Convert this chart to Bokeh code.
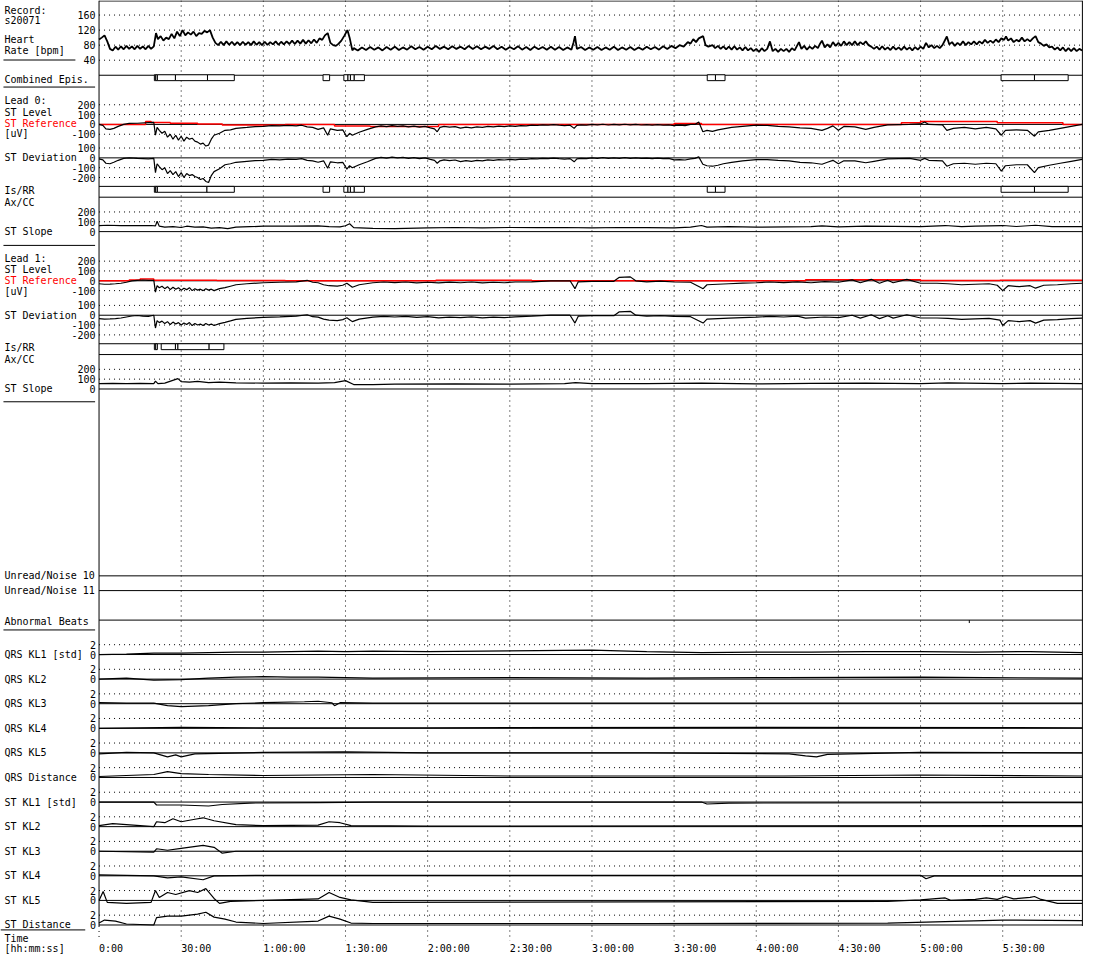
from bokeh.plotting import figure
from bokeh.models import Range1d
from bokeh.embed import file_html
from bokeh.resources import INLINE
from bokeh.core.properties import value

# ----------------------------- data (time in minutes) -----------------------------
record = "s20071"
time_ticks = [0, 30, 60, 90, 120, 150, 180, 210, 240, 270, 300, 330]
time_labels = ["0:00", "30:00", "1:00:00", "1:30:00", "2:00:00", "2:30:00", "3:00:00",
               "3:30:00", "4:00:00", "4:30:00", "5:00:00", "5:30:00"]
T_END = 359.1

hr_pts = [(0,95),(1,100),(2,106),(3,90),(4,70),(5,66),(6,76),(7,68),(8,77),(9,69),(10,78),(11,70),(12,77),(13,69),(14,78),(15,70),(16,77),(17,69),(18,78),(19,70),(20,77),(20.8,112),(21.5,96),(22.5,104),(23.5,92),(24.5,100),(25.5,96),(26.5,110),(27.5,98),(28.5,116),(29.5,104),(30.5,120),(31.5,106),(32.5,114),(33.5,108),(34.5,116),(35.5,104),(36.5,112),(37.5,110),(38.5,118),(39.5,114),(40.5,120),(41.5,100),(42.5,86),
          (43.5,80),(44.5,89),(45.5,80),(46.5,90),(47.5,81),(48.5,89),(49.5,80),(50.5,88),(51.5,80),(52.5,89),(53.5,81),(54.5,88),(55.5,80),(56.5,90),(57.5,81),(58.5,88),(59.5,80),(60.5,89),(61.5,81),(62.5,88),(63.5,82),(64.5,90),(65.5,81),(66.5,89),(67.5,82),(68.5,90),(69.5,83),(70.5,92),(71.5,83),(72.5,92),(73.5,84),(74.5,94),(75.5,84),(76.5,93),(77.5,85),(78.5,95),(79.5,86),(80.5,98),(81.5,94),(82.5,106),(83.5,112),(84.5,86),(85.5,80),(86.5,78),(87.5,84),(88.5,92),(89.5,104),(90.7,120),(91.5,100),(92.5,66),
          (93,72),(94.5,66),(96,74),(97.5,67),(99,75),(100.5,68),(102,74),(103.5,66),(105,75),(106.5,68),(108,76),(109.5,67),(111,74),(112.5,68),(114,77),(115.5,69),(117,75),(118.5,68),(120,76),(121.5,69),(123,78),(124.5,70),(126,76),(127.5,69),(129,77),(130.5,70),(132,76),(133.5,69),(135,78),(136.5,70),(138,77),(139.5,69),(141,76),(142.5,70),(144,78),(145.5,69),(147,76),(148.5,68),(150,75),(151.5,69),(153,77),(154.5,68),(156,75),(157.5,67),(159,76),(160.5,69),(162,75),(163.5,68),(165,76),(166.5,68),(168,75),(169.5,67),(171,74),(172.5,68),(173.3,88),(173.8,104),(174.5,70),(176,75),(177.5,67),(179,74),(180.5,68),(182,75),(183.5,67),(185,74),(186.5,68),(188,76),(189.5,67),(191,74),(192.5,68),(194,75),(195.5,67),(197,74),(198.5,68),(200,76),(201.5,69),(203,75),(204.5,68),(206,77),(207.5,70),(209,78),(210.5,72),(212,80),(213.5,76),(215,88),(216,84),(217,96),(218,88),(219,98),(220.6,104),(221.5,80),(222.5,76),
          (224,80),(225,72),(226,78),(227,70),(228,77),(229,69),(230,76),(231,68),(232,77),(233,68),(234,74),(235,66),(236,75),(237,66),(238,72),(239,64),(240,70),(241,62),(242,72),(243,64),(244,70),(245,90),(246,64),(247,70),(248,62),(249,70),(250,64),(251,70),(252,62),(253,72),(254,66),(255.6,88),(256.5,70),(257.5,78),(258.5,68),(259.5,76),(260.5,70),(261.5,78),(262.5,72),(263.3,84),(264,92),(265,74),(266,82),(267,74),(268,88),(269,78),(270,86),(271,78),(272,90),(273,80),(274,88),(275,80),(276,90),(277,80),(278,88),(279,82),(280,90),(281,80),(282,76),(283,70),(284,76),(285,68),(286,77),(287,68),(288,74),(289,67),(290,76),(291,68),(292,74),(293,67),(294,76),(295,68),(296,74),(297,66),(298,75),(299,68),(300,76),(301,70),(302,86),(303,74),(304,80),(305,72),(306,78),(307,72),(308,80),(309.6,103),(310.5,82),(311.5,88),(312.5,78),(313.5,86),(314.5,80),(315.5,90),(316.5,80),(317.5,88),(318.5,82),(319.5,90),(320.5,82),(321.5,90),(322.5,84),(323.5,94),(324.5,86),(325.5,92),(326.5,86),(327.5,95),(328.5,88),(329.5,98),(330.5,94),(331.2,103),(332,92),(333,98),(334,88),(335,94),(336,90),(337,100),(338,90),(339,96),(340,90),(341,98),(342,104),(343,88),(344,84),(345,78),(346,82),(347,74),(348,76),(349,68),(350,74),(351,66),(352,74),(353,64),(354,72),(355,64),(356,72),(357,64),(358,70),(359,66)]

l0_level_pts = [(0,0),(1.4,-10),(2.5,-45),(4,-50),(5.4,-40),(7,-20),(9,0),(11,10),(14,12),(18,18),(20,20),(20.6,-110),(21.2,-30),(22,-60),(23,-90),(24,-70),(25,-130),(26,-100),(27,-150),(28,-110),(29,-160),(30,-120),(31,-170),(32,-130),(33,-150),(34,-140),(35,-170),(36,-180),(37,-200),(38,-190),(39,-220),(40,-210),(41,-150),(42,-110),(44,-90),(46,-60),(48,-55),(50,-40),(54,-30),(57,-22),(60,-20),(63,-12),(66,-15),(69,-10),(72,-15),(74,-8),(76,-25),(78,-30),(80,-50),(82,-35),(83.5,-110),(84.5,-45),(87,-60),(89,-55),(90.5,-125),(91.5,-90),(92.5,-110),(95,-80),(98,-50),
                (101,-25),(103,-15),(105,-22),(107,-12),(109,-20),(111,-15),(113,-25),(115,-18),(117,-28),(119,-20),(121,-35),(122.5,-45),(123.5,-75),(124.5,-30),(126,-20),(128,-28),(130,-22),(132,-38),(134,-28),(136,-35),(138,-25),(140,-30),(142,-20),(144,-25),(146,-18),(148,-22),(150,-15),(152,-20),(154,-12),(156,-15),(158,-8),(160,-10),(162,-5),(164,-8),(166,-3),(168,-8),(170,-12),(172,-8),(173.5,-40),(174.5,-10),(176,-5),(178,-8),(180,0),(182,-5),(184,2),(186,-6),(188,0),(190,-5),(192,2),(194,-5),(196,0),(198,-6),(200,-2),(202,-8),(204,-3),(206,-8),(208,-5),(210,-12),(212,-8),(214,-12),(216,0),
                (217.6,0),(219,25),(220.5,-75),(222,-60),(224,-70),(226,-55),(228,-45),(231,-30),(235,-20),(240,-8),(244,-10),(248,-20),(252,-25),(256,-35),(260,-40),(264,-60),(266,-40),(268,-15),(270,-60),(272,-20),(276,-25),(280,-50),(283,-30),(288,-5),(296,0),(300,5),(301.5,25),(303,0),(308,-5),(309.6,-60),(312,-40),(316,-30),(320,-45),(324,-30),(327.5,-45),(329.5,-110),(331,-60),(335,-55),(339,-60),(341.6,-120),(343,-75),(347,-60),(351,-40),(355,-20),(359,0)]
l0_ref_pts = [(0,0),(17,30),(19,20),(26,12),(36,5),(45,-5),(68,0),(86,-15),(99,-20),(124,0),(210,10),(220,0),(293,17),(300,30),(328,17),(352,0)]
l0_dev_pts = [(0,-10),(1.4,-20),(2.5,-55),(4,-60),(5.4,-45),(7,-25),(9,-5),(11,0),(14,-5),(18,-10),(20,-5),(20.6,-150),(21.2,-60),(22,-90),(23,-120),(24,-100),(25,-160),(26,-130),(27,-170),(28,-140),(29,-190),(30,-150),(31,-200),(32,-160),(33,-180),(34,-170),(35,-190),(36,-200),(37,-220),(38,-210),(39,-240),(40,-250),(41,-180),(42,-140),(44,-110),(46,-70),(48,-60),(50,-45),(54,-35),(57,-28),(60,-25),(63,-15),(66,-20),(69,-12),(72,-15),(74,-8),(76,-25),(78,-30),(80,-45),(82,-30),(83.5,-105),(84.5,-40),(87,-50),(89,-45),(90.5,-115),(91.5,-80),(92.5,-100),(95,-70),(98,-40),
              (101,-5),(103,5),(105,-2),(107,8),(109,0),(111,5),(113,-5),(115,2),(117,-8),(119,0),(121,-15),(122.5,-25),(123.5,-55),(124.5,-30),(126,-20),(128,-28),(130,-22),(132,-38),(134,-28),(136,-35),(138,-25),(140,-30),(142,-20),(144,-25),(146,-18),(148,-22),(150,-15),(152,-20),(154,-12),(156,-15),(158,-8),(160,-10),(162,-5),(164,-8),(166,-3),(168,-8),(170,-12),(172,-8),(173.5,-40),(174.5,-10),(176,-5),(178,-8),(180,0),(182,-5),(184,2),(186,-6),(188,0),(190,-5),(192,2),(194,-5),(196,0),(198,-6),(200,-2),(202,-8),(204,-3),(206,-8),(208,-5),(210,-20),(212,-18),(214,-22),(216,-10),
              (217.6,-5),(219,10),(220.5,-65),(222,-80),(224,-85),(226,-75),(228,-60),(231,-45),(235,-30),(240,-17),(244,-17),(248,-25),(252,-30),(256,-45),(260,-50),(264,-65),(266,-45),(268,-25),(270,-60),(272,-30),(276,-30),(280,-50),(283,-35),(288,-10),(296,-5),(300,-25),(301.5,-5),(303,-25),(308,-30),(309.6,-85),(312,-60),(316,-55),(320,-65),(324,-55),(327.5,-60),(329.5,-135),(331,-80),(335,-70),(339,-70),(341.6,-150),(343,-100),(347,-75),(351,-55),(355,-35),(359,-15)]
l0_slope_pts = [(0,60),(3,65),(8,60),(14,62),(19,62),(20.6,58),(21.2,105),(22,55),(24,45),(27,50),(30,42),(32,55),(35,45),(38,48),(41,35),(44,40),(47,30),(50,45),(55,50),(60,55),(70,55),(80,58),(84,50),(88,48),(90,60),(91.5,80),(93,40),(100,33),(108,30),(120,38),(130,42),(140,38),(150,42),(160,40),(170,42),(180,38),(190,42),(200,40),(210,38),(216,45),(220,62),(222,45),(230,50),(240,45),(260,50),(264,58),(270,48),(280,55),(300,50),(309,62),(315,50),(320,55),(330,62),(335,52),(342,65),(348,50),(359,50)]

l1_level_pts = [(0,-30),(2,-35),(4,-33),(6,-30),(8,-25),(10,-15),(12,0),(14,5),(16,8),(18,5),(20,5),(20.6,-115),(21.2,-50),(22,-70),(23,-55),(24,-80),(25,-60),(26,-90),(27,-65),(28,-85),(29,-70),(30,-95),(31,-75),(32,-90),(33,-70),(34,-100),(35,-80),(36,-95),(37,-85),(38,-100),(39,-80),(40,-95),(41,-85),(42,-100),(44,-80),(46,-70),(48,-55),(50,-40),(54,-30),(60,-20),(66,-15),(72,-10),(76,5),(78,-15),(80,-20),(82,-40),(84,-50),(87,-55),(89,-45),(90.5,-25),(91.5,-45),(92.5,-65),(95,-40),(100,-20),(104,-12),(108,-18),(112,-12),(116,-22),(120,-15),(124,-22),(128,-14),(132,-20),(136,-12),(140,-22),(144,-15),(148,-20),(152,-12),(158,-10),(165,0),(172,0),(173.8,-80),(175,-10),(180,-5),(188,-5),(190,35),(194,40),(196,0),(200,-10),(205,-4),(210,-12),(216,-15),(220.6,-80),(222,-40),(226,-35),(230,-30),(235,-24),(240,-20),(245,-12),(250,-18),(255,-10),(260,-20),(265,-8),(270,-15),(275,10),(278,-20),(282,15),(285,-25),(288,5),(290,-20),(295,15),(300,-25),(306,-25),(310,-30),(315,-40),(320,-35),(325,-30),(328,-45),(330,-100),(332,-50),(336,-60),(340,-50),(342,-75),(345,-45),(350,-40),(355,-30),(359,-25)]
l1_ref_pts = [(0,0),(11,8),(15,18),(20,5),(43,2),(68,0),(123,5),(158,0),(258,10),(300,3),(329,5)]
l1_dev_pts = [(0,-35),(2,-40),(4,-38),(6,-35),(8,-28),(10,-18),(12,-8),(14,-3),(16,-10),(18,-12),(20,0),(20.6,-130),(21.2,-55),(22,-75),(23,-60),(24,-85),(25,-65),(26,-95),(27,-70),(28,-90),(29,-75),(30,-100),(31,-80),(32,-95),(33,-75),(34,-105),(35,-85),(36,-100),(37,-90),(38,-105),(39,-85),(40,-100),(41,-90),(42,-105),(44,-85),(46,-72),(48,-58),(50,-42),(54,-32),(60,-22),(66,-17),(72,-10),(76,5),(78,-15),(80,-20),(82,-40),(84,-50),(87,-55),(89,-45),(90.5,-25),(91.5,-45),(92.5,-65),(95,-40),(100,-20),(104,-12),(108,-18),(112,-12),(116,-22),(120,-15),(124,-27),(128,-19),(132,-25),(136,-17),(140,-27),(144,-20),(148,-25),(152,-17),(158,-10),(165,0),(172,0),(173.8,-80),(175,-10),(180,-5),(188,-5),(190,35),(194,40),(196,0),(200,-10),(205,-4),(210,-12),(216,-15),(220.6,-80),(222,-40),(226,-35),(230,-30),(235,-24),(240,-20),(245,-12),(250,-18),(255,-10),(258,-30),(265,-18),(270,-25),(275,0),(278,-30),(282,5),(285,-35),(288,-5),(290,-30),(295,5),(300,-28),(306,-28),(310,-33),(315,-43),(320,-38),(325,-33),(329,-50),(330,-105),(332,-55),(336,-65),(340,-55),(342,-80),(345,-50),(350,-45),(355,-35),(359,-30)]
l1_slope_pts = [(0,55),(5,58),(10,55),(15,58),(20,55),(20.6,80),(21.5,55),(24,60),(28.8,105),(30,75),(33,70),(36,78),(40,65),(44,70),(50,62),(60,60),(70,62),(80,60),(86,65),(90,85),(93,45),(100,45),(108,50),(130,52),(150,50),(170,55),(174,65),(180,55),(200,55),(220,60),(240,52),(260,58),(280,60),(300,55),(310,62),(330,55),(340,60),(350,58),(359,55)]

combined_episodes = [(20.2,20.7),(20.7,21.3),(21.3,27.9),(27.9,39.6),(39.6,49.4),(81.8,84.2),(89.4,90.9),(90.9,91.8),(91.8,93.2),(93.2,96.9),(222.1,225.1),(225.1,228.6),(329.4,341.6),(341.6,353.9)]
l0_episodes = [(20.2,20.7),(20.7,21.3),(21.3,39.4),(39.4,49.4),(81.8,84.2),(89.4,90.9),(90.9,91.8),(91.8,93.2),(93.2,96.9),(222.1,225.1),(225.1,228.6),(329.4,341.6),(341.6,353.9)]
l1_episodes = [(20.2,20.7),(20.7,21.3),(22.7,27.9),(27.9,28.8),(28.8,40.2),(40.2,45.6)]
abnormal_beats = [317.8]

kl_names = ["QRS KL1 [std]", "QRS KL2", "QRS KL3", "QRS KL4", "QRS KL5", "QRS Distance",
            "ST KL1 [std]", "ST KL2", "ST KL3", "ST KL4", "ST KL5", "ST Distance"]
qrs_kl1 = [(0,0),(10,0.1),(20,0.3),(30,0.3),(40,0.4),(50,0.5),(60,0.5),(70,0.6),(80,0.7),(90,0.6),(100,0.7),(120,0.6),(140,0.7),(160,0.8),(180,0.9),(200,0.6),(220,0.4),(240,0.5),(260,0.5),(280,0.6),(300,0.6),(320,0.5),(340,0.6),(359,0.4)]
qrs_kl2 = [(0,0),(10,0.2),(20,-0.2),(30,-0.1),(40,0.2),(50,0.4),(60,0.5),(70,0.4),(80,0.4),(90,0.3),(100,0.2),(150,0.3),(200,0.2),(250,0.3),(300,0.4),(359,0.2)]
qrs_kl3 = [(0,0.2),(10,0.1),(20,0.1),(25,-0.4),(30,-0.6),(40,-0.4),(50,0),(60,0.2),(75,0.4),(80,0.5),(85,0.2),(86,-0.4),(88,0.2),(100,0.1),(200,0.1),(359,0.1)]
qrs_kl4 = [(0,0),(30,0.2),(60,0.1),(120,0.1),(240,0.2),(359,0.1)]
qrs_kl5 = [(0,-0.2),(10,0.1),(20,0),(25,-0.8),(28,-0.4),(30,-0.8),(35,-0.2),(60,0.1),(90,0.2),(120,0),(200,0),(252,-0.2),(258,-0.6),(262,-0.8),(266,-0.3),(300,0.1),(359,0)]
qrs_dist = [(0,0.2),(10,0.4),(20,0.6),(25,1.2),(30,0.8),(40,0.6),(60,0.4),(100,0.6),(150,0.3),(200,0.3),(250,0.3),(300,0.5),(359,0.3)]
st_kl1 = [(0,0),(20,0),(21,-0.6),(30,-0.6),(40,-0.8),(45,-0.5),(55,-0.2),(80,-0.1),(100,0),(220,0),(222,-0.4),(230,-0.2),(359,-0.1)]
st_kl2 = [(0,0.2),(5,0.6),(15,0.2),(20,0),(21,1.0),(24,0.8),(27,1.6),(30,1.0),(35,1.5),(38,1.8),(42,1.2),(50,0.4),(60,0.2),(80,0.3),(84,1.0),(88,0.8),(92,0.2),(120,0.1),(359,0.2)]
st_kl3 = [(0,0),(20,-0.2),(21,0.5),(25,0.2),(30,0.6),(38,1.2),(42,0.8),(45,-0.4),(50,0),(359,0)]
st_kl4 = [(0,0.2),(20,0),(25,-0.4),(30,-0.2),(38,-0.8),(42,0),(60,0.1),(300,0.1),(302,-0.6),(305,0),(359,0)]
st_kl5 = [(0,0),(1.5,1.8),(3,-0.4),(10,-0.6),(19,-0.4),(20.6,2.0),(22,0.6),(25,1.6),(28,1.2),(33,2.0),(36,1.6),(39,2.4),(42,0.4),(44,-0.6),(48,-0.2),(60,0),(80,0.3),(84,1.6),(88,0.6),(92,0.1),(100,-0.4),(288,-0.2),(300,0.1),(309,0.5),(311,0),(320,0.2),(324,0.5),(328,0.2),(331,0.8),(334,0.3),(340,0.6),(341.6,0.8),(344,0.2),(350,-0.6),(359,-0.6)]
st_dist = [(0,0.4),(2,1.0),(6,0.8),(10,0.2),(20,0),(21,1.5),(25,1.8),(30,1.8),(36,2.2),(39,2.6),(42,1.6),(46,1.2),(50,0.6),(60,0.3),(80,0.8),(84,1.8),(88,1.2),(92,0.4),(100,0.3),(200,0.3),(288,0.4),(309,0.7),(330,1.0),(359,0.9)]
kl_series = [qrs_kl1, qrs_kl2, qrs_kl3, qrs_kl4, qrs_kl5, qrs_dist,
             st_kl1, st_kl2, st_kl3, st_kl4, st_kl5, st_dist]

# ----------------------------- layout (reference pixel frame) -----------------------------
W, H = 1084, 954          # drawn size (fits the window with 8px page margin)
RW, RH = 1100, 970        # reference frame the layout is described in
X0, PPM = 100.0, 2.7788   # x of time 0 and pixels per minute
FONT = value("DejaVu Sans Mono")
FS = "10px"
RED = "#ff0000"
DOT = "1 4"

p = figure(width=W, height=H, output_backend="svg", toolbar_location=None,
           x_range=Range1d(-X0 / PPM, (RW - X0) / PPM), y_range=Range1d(RH, 0),
           x_axis_location=None, y_axis_location=None, min_border=0,
           outline_line_color=None, background_fill_color="white")
p.grid.visible = False

# panels: name -> (reference y of value 0, pixels per unit)
panels = {"hr": (76, 0.3825), "l0lev": (126, 0.1), "l0dev": (160, 0.1), "l0slp": (235, 0.1),
          "l1lev": (285, 0.1), "l1dev": (320, 0.1), "l1slp": (395, 0.1)}
for i in range(12):
    panels["kl%d" % i] = (665 + 25 * i, 5.0)
ranges = {k: Range1d((y0 - RH) / s, y0 / s) for k, (y0, s) in panels.items()}
p.extra_y_ranges = ranges
p.extra_x_ranges = {"px": Range1d(0, RW)}


def unzip(pts):
    return [a for a, b in pts], [b for a, b in pts]


def hline(rng, v, dash="solid", color="black"):
    kw = {} if rng is None else {"y_range_name": rng}
    p.segment(x0=[0], x1=[T_END], y0=[v], y1=[v], line_color=color, line_width=1,
              line_dash=dash, **kw)


def ticks(rng, vals, labels, x=96.5):
    p.text(x=[x] * len(vals), y=vals, text=labels, x_range_name="px", y_range_name=rng,
           text_font=FONT, text_font_size=FS, text_align="right", text_baseline="middle",
           text_color="black")


# vertical dotted time grid
p.segment(x0=time_ticks[1:], x1=time_ticks[1:], y0=[0] * 11, y1=[956] * 11,
          line_color="black", line_dash=DOT, line_width=1)
p.segment(x0=[0], x1=[0], y0=[941], y1=[956], line_color="black", line_dash=DOT)

# heart rate
for v in [40, 80, 120, 160]:
    hline("hr", v, DOT)
ticks("hr", [160, 120, 80, 40], ["160", "120", "80", "40"])
hline("hr", 0)
t, v = unzip(hr_pts)
p.line(t, v, y_range_name="hr", line_color="black", line_width=1.8)


def episodes(eps, top, bottom):
    p.quad(left=[a for a, b in eps], right=[b for a, b in eps], top=[top] * len(eps),
           bottom=[bottom] * len(eps), fill_color="white", line_color="black", line_width=1)


episodes(combined_episodes, 75.5, 81.5)


def lead(lev, ref, dev, slp, eps, lv, dv, sv, ep_top):
    for val in [200, 100, -100]:
        hline(lv, val, DOT)
    ticks(lv, [200, 100, 0, -100], ["200", "100", "0", "-100"])
    hline(lv, 0)
    rt, rv = unzip(ref)
    p.step(rt + [T_END], rv + [rv[-1]], mode="after", y_range_name=lv,
           line_color=RED, line_width=1.5)
    t, v = unzip(lev)
    p.line(t, v, y_range_name=lv, line_color="black", line_width=1.2)
    for val in [100, -100, -200]:
        hline(dv, val, DOT)
    ticks(dv, [100, 0, -100, -200], ["100", "0", "-100", "-200"])
    hline(dv, 0)
    t, v = unzip(dev)
    p.line(t, v, y_range_name=dv, line_color="black", line_width=1.2)
    hline(None, ep_top)
    hline(None, ep_top + 11)
    episodes(eps, ep_top, ep_top + 6)
    for val in [200, 100]:
        hline(sv, val, DOT)
    ticks(sv, [200, 100, 0], ["200", "100", "0"])
    hline(sv, 0)
    t, v = unzip(slp)
    p.line(t, v, y_range_name=sv, line_color="black", line_width=1.2)


lead(l0_level_pts, l0_ref_pts, l0_dev_pts, l0_slope_pts, l0_episodes,
     "l0lev", "l0dev", "l0slp", 189)
lead(l1_level_pts, l1_ref_pts, l1_dev_pts, l1_slope_pts, l1_episodes,
     "l1lev", "l1dev", "l1slp", 349)

# unread / noise / abnormal beats rows
for yy in [585, 600, 630]:
    hline(None, yy)
p.segment(x0=abnormal_beats, x1=abnormal_beats, y0=[630] * len(abnormal_beats),
          y1=[633] * len(abnormal_beats), line_color="black")

# KL panels
for i, ser in enumerate(kl_series):
    rng = "kl%d" % i
    hline(rng, 2, DOT)
    ticks(rng, [2, 0], ["2", "0"], x=97)
    hline(rng, 0)
    t, v = unzip(ser)
    p.line(t, v, y_range_name=rng, line_color="black", line_width=1.2)

# frame
p.segment(x0=[0, 0, T_END], x1=[T_END, 0, T_END], y0=[0.5, 0, 0], y1=[0.5, 941, 941],
          line_color="black", line_width=1)

# time labels
p.text(x=time_ticks, y=[964] * len(time_ticks), text=time_labels, text_font=FONT,
       text_font_size=FS, text_align="left", text_baseline="alphabetic")

# left-hand labels (reference px coordinates)
left_text = [("Record:", 10, "black"), (record, 20, "black"), ("Heart", 40, "black"),
             ("Rate [bpm]", 51, "black"), ("Combined Epis.", 80, "black"),
             ("Lead 0:", 102, "black"), ("ST Level", 114, "black"),
             ("ST Reference", 125, RED), ("[uV]", 135.5, "black"),
             ("ST Deviation", 160, "black"), ("Is/RR", 193, "black"), ("Ax/CC", 205, "black"),
             ("ST Slope", 235, "black"), ("Lead 1:", 262, "black"), ("ST Level", 274, "black"),
             ("ST Reference", 285, RED), ("[uV]", 295.5, "black"),
             ("ST Deviation", 320, "black"), ("Is/RR", 353, "black"), ("Ax/CC", 365, "black"),
             ("ST Slope", 395, "black"), ("Unread/Noise 10", 585, "black"),
             ("Unread/Noise 11", 600, "black"), ("Abnormal Beats", 631, "black")]
left_text += [(n, 665 + 25 * i, "black") for i, n in enumerate(kl_names)]
left_text += [("Time", 954, "black"), ("[hh:mm:ss]", 964, "black")]
p.text(x=[4] * len(left_text), y=[b for a, b, c in left_text], text=[a for a, b, c in left_text],
       text_color=[c for a, b, c in left_text], x_range_name="px", text_font=FONT,
       text_font_size=FS, text_align="left", text_baseline="alphabetic")

# left separators
seps = [(60.5, 3, 76), (88, 3, 96), (249, 3, 96), (408, 3, 96), (640, 3, 96), (945, 0, 86)]
p.segment(x0=[a for y, a, b in seps], x1=[b for y, a, b in seps], y0=[y for y, a, b in seps],
          y1=[y for y, a, b in seps], x_range_name="px", line_color="black", line_width=1)

open("out.html", "w").write(file_html(p, INLINE))
